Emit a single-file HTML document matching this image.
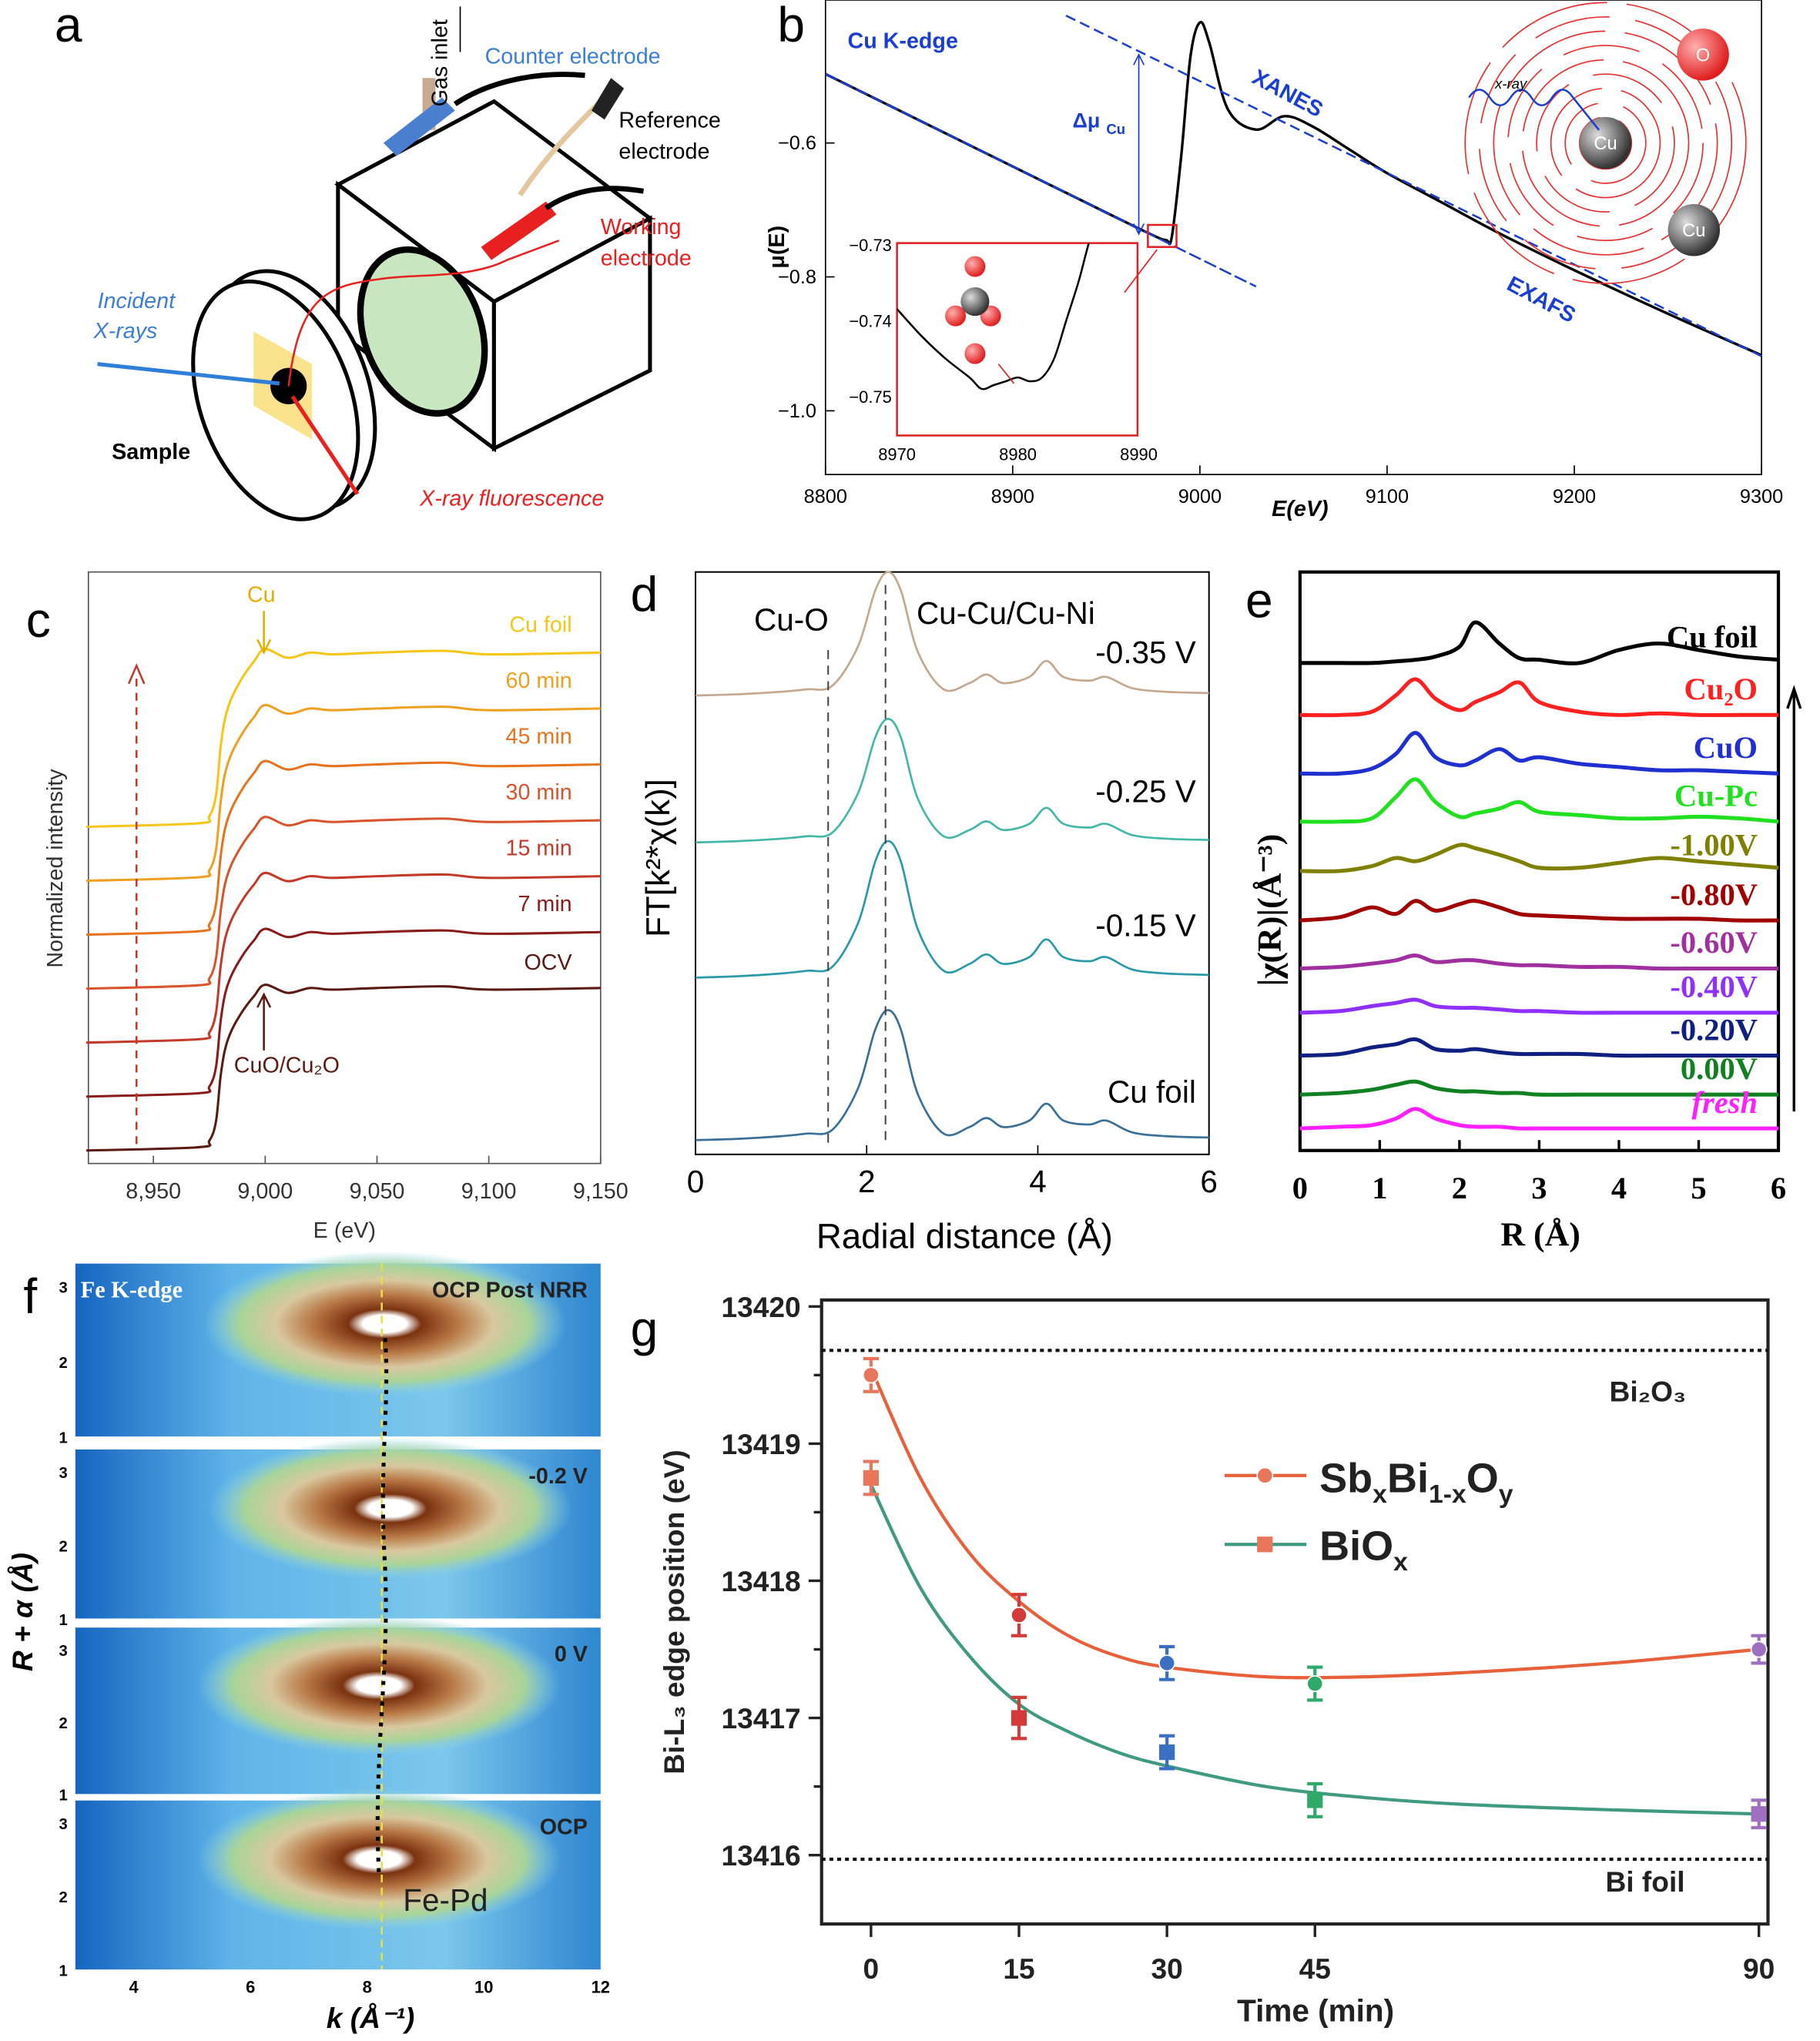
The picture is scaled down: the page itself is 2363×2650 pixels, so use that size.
<!DOCTYPE html>
<html><head><meta charset="utf-8"><style>
html,body{margin:0;padding:0;background:#fff;}
svg{display:block;font-family:"Liberation Sans",sans-serif;}
</style></head><body>
<svg id="fig" width="2363" height="2650" viewBox="0 0 1400 1570" preserveAspectRatio="none" xmlns="http://www.w3.org/2000/svg">
<defs>
<radialGradient id="hm" cx="50%" cy="50%" r="50%">
<stop offset="0" stop-color="#ffffff"/><stop offset="0.12" stop-color="#ffffff"/><stop offset="0.2" stop-color="#7a3210"/><stop offset="0.4" stop-color="#b87845"/><stop offset="0.6" stop-color="#d9c8a0"/><stop offset="0.8" stop-color="#a8d49a"/><stop offset="1" stop-color="#8fd3e8" stop-opacity="0"/>
</radialGradient>
<linearGradient id="hbg" x1="0" y1="0" x2="1" y2="0"><stop offset="0" stop-color="#1565c0"/><stop offset="0.3" stop-color="#5fb4e8"/><stop offset="0.7" stop-color="#7cc7ec"/><stop offset="1" stop-color="#2f86d0"/></linearGradient>
<radialGradient id="ball" cx="35%" cy="35%" r="65%"><stop offset="0" stop-color="#ddd"/><stop offset="1" stop-color="#333"/></radialGradient>
<radialGradient id="oball" cx="35%" cy="35%" r="65%"><stop offset="0" stop-color="#ffb0b0"/><stop offset="1" stop-color="#e02020"/></radialGradient>
<clipPath id="insetClip"><rect x="690" y="187" width="185" height="148"/></clipPath>
</defs>

<g>
<text x="42" y="32" font-size="38">a</text>
<polygon points="260,142 380,78 500,168 380,232" fill="#fff" stroke="#000" stroke-width="3"/>
<polygon points="260,142 380,232 380,345 260,255" fill="#fff" stroke="#000" stroke-width="3"/>
<polygon points="380,232 500,168 500,285 380,345" fill="#fff" stroke="#000" stroke-width="3"/>
<ellipse cx="325" cy="255" rx="45" ry="65" transform="rotate(-20 325 255)" fill="#c8e6c0" stroke="#000" stroke-width="5"/>
<ellipse cx="225" cy="300" rx="58" ry="95" transform="rotate(-20 225 300)" fill="#fff" stroke="#000" stroke-width="3"/>
<ellipse cx="212" cy="308" rx="58" ry="95" transform="rotate(-20 212 308)" fill="#fff" stroke="#000" stroke-width="3"/>
<polygon points="195,255 240,280 240,338 195,312" fill="#fbe38e"/>
<circle cx="222" cy="297" r="14" fill="#000"/>
<line x1="75" y1="280" x2="215" y2="295" stroke="#2f7ed8" stroke-width="3"/>
<line x1="225" y1="305" x2="275" y2="380" stroke="#e82020" stroke-width="3"/>
<path d="M222,297 C230,230 250,220 290,215 C320,210 360,215 390,200 L430,185" fill="none" stroke="#e82020" stroke-width="1.5"/>
<rect x="325" y="60" width="10" height="40" fill="#c9a990"/>
<line x1="354" y1="5" x2="354" y2="40" stroke="#000"/>
<polygon points="295,110 340,75 350,85 305,120" fill="#4a7fd0"/>
<polygon points="370,190 420,155 428,165 378,200" fill="#e82020"/>
<path d="M350,80 C380,60 420,55 450,58" fill="none" stroke="#000" stroke-width="4"/>
<path d="M420,160 C450,140 480,145 495,147" fill="none" stroke="#000" stroke-width="4"/>
<path d="M400,150 C420,120 440,100 460,80" fill="none" stroke="#e2c7a0" stroke-width="4"/>
<polygon points="455,85 470,60 480,68 465,92" fill="#222"/>
<text x="344" y="82" font-size="17" transform="rotate(-90 344 82)">Gas inlet</text>
<text x="373" y="49" font-size="17" fill="#3a7fd5">Counter electrode</text>
<text x="476" y="98" font-size="17">Reference</text>
<text x="476" y="122" font-size="17">electrode</text>
<text x="462" y="180" font-size="17" fill="#e82020">Working</text>
<text x="462" y="204" font-size="17" fill="#e82020">electrode</text>
<text x="75" y="237" font-size="17" font-style="italic" fill="#3a7fd5">Incident</text>
<text x="72" y="260" font-size="17" font-style="italic" fill="#3a7fd5">X-rays</text>
<text x="86" y="353" font-size="17" font-weight="bold">Sample</text>
<text x="323" y="389" font-size="17" font-style="italic" fill="#e82020">X-ray fluorescence</text>
</g>

<text x="598" y="32" font-size="38">b</text>
<text x="20" y="490" font-size="38">c</text>
<text x="485" y="470" font-size="38">d</text>
<text x="958" y="475" font-size="38">e</text>
<text x="18" y="1010" font-size="38">f</text>
<text x="485" y="1035" font-size="38">g</text>

<g id="pb"></g>
<g id="pc"></g>
<g id="pd"></g>
<g id="pe"></g>
<g id="pf"></g>
<g id="pg"></g>
</svg>
<script>
// panel b
const bEnergy=[8800,8850,8900,8950,8975,8982,8985,8990,8995,9000,9005,9015,9030,9045,9060,9080,9100,9130,9160,9200,9250,9300];
const bMu=[-0.497,-0.566,-0.635,-0.704,-0.738,-0.745,-0.74,-0.62,-0.47,-0.42,-0.45,-0.55,-0.58,-0.56,-0.575,-0.61,-0.645,-0.69,-0.735,-0.79,-0.855,-0.917];
const bXTicks=[8800,8900,9000,9100,9200,9300];
const bYTicks=[-0.6,-0.8,-1.0];
const bInsetE=[8970,8972,8974,8976,8977,8978,8979,8980,8981,8982,8983,8984,8985,8985.5,8986];
const bInsetMu=[-0.7385,-0.742,-0.745,-0.7475,-0.749,-0.7485,-0.748,-0.7475,-0.748,-0.7475,-0.745,-0.74,-0.735,-0.732,-0.729];
const bInsetTicksX=[8970,8980,8990];
const bInsetTicksY=[-0.73,-0.74,-0.75];
// panel c
const cEnergy=[8920,8970,8975,8978,8980,8982,8985,8990,8995,9000,9010,9020,9030,9050,9080,9100,9150];
const cShape=[0,0.02,0.06,0.18,0.45,0.62,0.74,0.86,0.95,1.02,0.97,1.0,0.99,1.0,1.01,0.99,1.0];
const cLabels=["OCV","7 min","15 min","30 min","45 min","60 min","Cu foil"];
const cOffsets=[0,1,2,3,4,5,6];
const cXTicks=[8950,9000,9050,9100,9150];
// panel d
const dR=[0,0.5,1,1.3,1.6,1.9,2.1,2.25,2.4,2.6,2.9,3.2,3.4,3.6,3.9,4.1,4.3,4.6,4.8,5.1,5.5,6];
const dAmp=[0,0.01,0.03,0.05,0.08,0.4,0.85,1,0.85,0.35,0.05,0.1,0.17,0.1,0.15,0.28,0.15,0.12,0.15,0.06,0.03,0.02];
const dLabels=["Cu foil","-0.15 V","-0.25 V","-0.35 V"];
const dScale=[1,1.05,0.95,0.95];
const dXTicks=[0,2,4,6];
// panel e
const eR=[0,0.5,0.9,1.2,1.45,1.7,2.0,2.2,2.5,2.75,3.0,3.5,4.0,4.5,5.0,5.5,6];
const eLabels=["Cu foil","Cu\u2082O","CuO","Cu-Pc","-1.00V","-0.80V","-0.60V","-0.40V","-0.20V","0.00V","fresh"];
const eCu=[0,0,0,1,2,4,10,25,12,3,2,0,8,12,8,4,2];
const eCu2O=[0,0,2,12,22,10,3,8,14,20,8,2,0,1,0,0,0];
const eCuO=[0,0,3,12,25,10,5,8,15,8,10,6,4,2,2,1,0];
const eCuPc=[0,0,2,15,26,12,3,5,8,12,6,4,2,2,3,2,0];
const eM100=[0,0,3,8,6,10,16,14,10,6,2,2,5,8,6,4,2];
const eM080=[0,2,8,4,12,6,10,12,8,4,3,2,1,1,1,0,0];
const eM060=[0,1,3,5,8,4,5,5,3,2,2,1,1,0,0,0,0];
const eM040=[0,1,4,6,8,4,3,3,2,1,1,0,0,0,0,0,0];
const eM020=[0,1,5,7,10,4,3,4,2,1,1,1,0,0,0,0,0];
const eZero=[0,1,3,6,8,4,2,2,1,1,0,0,0,0,0,0,0];
const eFresh=[0,1,2,6,12,6,2,1,1,0,0,0,0,0,0,0,0];
const eXTicks=[0,1,2,3,4,5,6];
// panel f
const fLabels=["OCP Post NRR","-0.2 V","0 V","OCP"];
const fPeakK=[8.3,8.4,8.2,8.2];
const fPeakR=[2.5,2.5,2.5,2.5];
const fXTicks=[4,6,8,10,12];
// panel g
const gTime=[0,15,30,45,90];
const gSb=[13419.5,13417.75,13417.4,13417.25,13417.5];
const gBi=[13418.75,13417.0,13416.75,13416.4,13416.3];
const gErr=[0.12,0.15,0.12,0.12,0.1];
const gFitT=[0,5,10,15,20,25,30,40,50,60,75,90];
const gSbFit=[13419.55,13418.75,13418.2,13417.85,13417.6,13417.45,13417.37,13417.3,13417.3,13417.33,13417.4,13417.5];
const gBiFit=[13418.7,13417.95,13417.45,13417.1,13416.9,13416.75,13416.65,13416.5,13416.42,13416.37,13416.33,13416.3];
const gXTicks=[0,15,30,45,90];
const gYTicks=[13416,13417,13418,13419,13420];
const gColors=["#e8765a","#d43a3a","#3a6fc4","#2fa86a","#a070c0"];

const NS="http://www.w3.org/2000/svg";
function mk(tag,parent){const e=document.createElementNS(NS,tag);parent.appendChild(e);return e;}
function smooth(pts){let d="M"+pts[0][0]+","+pts[0][1];for(let i=0;i<pts.length-1;i++){const p0=pts[Math.max(0,i-1)],p1=pts[i],p2=pts[i+1],p3=pts[Math.min(pts.length-1,i+2)];d+=" C"+(p1[0]+(p2[0]-p0[0])/6)+","+(p1[1]+(p2[1]-p0[1])/6)+" "+(p2[0]-(p3[0]-p1[0])/6)+","+(p2[1]-(p3[1]-p1[1])/6)+" "+p2[0]+","+p2[1];}return d;}
function txt(parent,x,y,s,size,opts){const t=mk("text",parent);t.setAttribute("x",x);t.setAttribute("y",y);t.setAttribute("font-size",size);for(const k in (opts||{}))t.setAttribute(k,opts[k]);t.textContent=s;return t;}
function ln(parent,x1,y1,x2,y2,stroke,w,dash){const l=mk("line",parent);l.setAttribute("x1",x1);l.setAttribute("y1",y1);l.setAttribute("x2",x2);l.setAttribute("y2",y2);l.setAttribute("stroke",stroke);l.setAttribute("stroke-width",w);if(dash)l.setAttribute("stroke-dasharray",dash);return l;}
function rect(parent,x,y,w,h,stroke,sw,fill){const r=mk("rect",parent);r.setAttribute("x",x);r.setAttribute("y",y);r.setAttribute("width",w);r.setAttribute("height",h);r.setAttribute("fill",fill||"none");r.setAttribute("stroke",stroke);r.setAttribute("stroke-width",sw);return r;}
function pathEl(parent,d,stroke,w){const p=mk("path",parent);p.setAttribute("d",d);p.setAttribute("fill","none");p.setAttribute("stroke",stroke);p.setAttribute("stroke-width",w);return p;}

// panel b
(function(){
const g=document.getElementById("pb");
const x=v=>635+(v-8800)*720/500, y=v=>110+(-0.6-v)*515;
const fr=rect(g,635,0,720,365,"#000",1);


bXTicks.forEach(v=>{ln(g,x(v),365,x(v),358,"#000",1);const t=txt(g,x(v),387,String(v),15,{"text-anchor":"middle"});

});
bYTicks.forEach(v=>{ln(g,635,y(v),642,y(v),"#000",1);const t=txt(g,628,y(v)+5,v.toFixed(1).replace("-","\u2212"),15,{"text-anchor":"end"});

});
const xl=txt(g,1000,397,"E(eV)",17,{"font-weight":"bold","font-style":"italic","text-anchor":"middle"});


const yl=txt(g,603,190,"\u03bc(E)",17,{"font-weight":"bold","text-anchor":"middle",transform:"rotate(-90 603 190)"});


const c=pathEl(g,smooth(bEnergy.map((e,i)=>[x(e),y(bMu[i])])),"#000",2);


const pre=pathEl(g,"M"+x(8800)+","+y(-0.497)+" L"+x(9030)+","+y(-0.497-230*0.00138),"#1a3fd0",1.5);
pre.setAttribute("stroke-dasharray","10,3");


const post=pathEl(g,"M820,12 L1355,274","#1a3fd0",1.5);
post.setAttribute("stroke-dasharray","8,4");


const ar=pathEl(g,"M876,42 L876,180 M872,50 L876,42 L880,50 M872,172 L876,180 L880,172","#1a3fd0",1);


[["Cu K-edge",652,37,17,"#1a3fd0",0],["\u0394\u03bc",825,98,16,"#1a3fd0",0],["XANES",962,63,17,"#1a3fd0",28],["EXAFS",1158,222,17,"#1a3fd0",28]].forEach(a=>{const t=txt(g,a[1],a[2],a[0],a[3],{fill:a[4],"font-weight":"bold",transform:"rotate("+a[5]+" "+a[1]+" "+a[2]+")"});

});
const sub=txt(g,851,103,"Cu",11,{fill:"#1a3fd0","font-weight":"bold"});


for(let i=0;i<9;i++){const ci=mk("circle",g);ci.setAttribute("cx",1235);ci.setAttribute("cy",110);ci.setAttribute("r",20+i*11);ci.setAttribute("fill","none");ci.setAttribute("stroke","#e83030");ci.setAttribute("stroke-width",1);ci.setAttribute("stroke-dasharray",i%2?"60,20":"90,15");

}
[[1235,110,"Cu","url(#ball)"],[1303,177,"Cu","url(#ball)"],[1310,42,"O","url(#oball)"]].forEach(b=>{const ci=mk("circle",g);ci.setAttribute("cx",b[0]);ci.setAttribute("cy",b[1]);ci.setAttribute("r",20);ci.setAttribute("fill",b[3]);


const t=txt(g,b[0],b[1]+5,b[2],14,{"text-anchor":"middle",fill:"#fff"});

});
const wv=pathEl(g,"M1130,75 q8,-12 16,0 q8,12 16,0 q8,-12 16,0 q8,12 16,0 q8,-12 16,0 l20,25","#1a3fd0",1.5);


const xr=txt(g,1150,68,"x-ray",11,{"font-style":"italic"});


const sq=rect(g,883,173,22,17,"#e02020",1.5);


const ix=v=>690+(v-8970)*9.3, iy=v=>188+(-0.73-v)*5850;
const ib=rect(g,690,187,185,148,"#e02020",1.5,"#fff");


const ia=pathEl(g,"M890,192 L865,225","#e02020",1);


bInsetTicksX.forEach(v=>{const t=txt(g,ix(v),354,String(v),13,{"text-anchor":"middle"});

});
bInsetTicksY.forEach(v=>{const t=txt(g,686,iy(v)+5,v.toFixed(2).replace("-","\u2212"),13,{"text-anchor":"end"});

});
const ic=pathEl(g,smooth(bInsetE.map((e,i)=>[ix(e),iy(bInsetMu[i])])),"#000",1.5);
ic.setAttribute("clip-path","url(#insetClip)");


const ra=pathEl(g,"M768,280 L780,295","#e02020",1);


[[750,205],[735,243],[762,243],[750,272],[750,232]].forEach((p,i)=>{const ci=mk("circle",g);ci.setAttribute("cx",p[0]);ci.setAttribute("cy",p[1]);ci.setAttribute("r",i==4?11:8);ci.setAttribute("fill",i==4?"url(#ball)":"url(#oball)");

});
})();

// panel c
(function(){
const g=document.getElementById("pc");
const x=v=>118+(v-8950)*(462-118)/200;
const fr=rect(g,68,440,394,455,"#555",1);


cXTicks.forEach(v=>{ln(g,x(v),895,x(v),889,"#555",1);const t=txt(g,x(v),922,v.toLocaleString("en-US"),17,{"text-anchor":"middle",fill:"#333"});

});
const xl=txt(g,265,952,"E (eV)",17,{"text-anchor":"middle",fill:"#333"});


const yl=txt(g,48,668,"Normalized intensity",17,{"text-anchor":"middle",fill:"#333",transform:"rotate(-90 48 668)"});


const colors=["#5a1a12","#8b1a1a","#c43a2a","#d9532c","#e8731f","#f0a020","#f5c518"];
cOffsets.forEach((o,k)=>{const base=885-o*41.5, h=125+k*1.5;
const p=pathEl(g,smooth(cEnergy.map((e,i)=>[x(e),base-cShape[i]*h])),colors[k],1.8);


const t=txt(g,440,base-h+(k==0?0:-2)-14,cLabels[k],17,{"text-anchor":"end",fill:colors[k]});

});
const da=ln(g,105,880,105,520,"#c0392b",1.5,"6,5");


const ah=mk("path",g);ah.setAttribute("d","M99,526 L105,512 L111,526");ah.setAttribute("fill","none");ah.setAttribute("stroke","#c0392b");ah.setAttribute("stroke-width",1.5);


const cu=txt(g,201,463,"Cu",17,{"text-anchor":"middle",fill:"#e0b000"});


const a1=pathEl(g,"M203,470 L203,500 M198,492 L203,502 L208,492","#e0b000",1.5);


const a2=pathEl(g,"M203,808 L203,765 M198,775 L203,765 L208,775","#5a1a12",1.5);


const t=txt(g,180,825,"CuO/Cu\u2082O",17,{fill:"#5a1a12"});


})();

// panel d
(function(){
const g=document.getElementById("pd");
const x=v=>535+v*(930-535)/6;
const fr=rect(g,535,440,395,448,"#000",1.2);


dXTicks.forEach(v=>{ln(g,x(v),888,x(v),881,"#000",1);const t=txt(g,x(v),917,String(v),24,{"text-anchor":"middle"});

});
const xl=txt(g,742,960,"Radial distance (\u00c5)",27,{"text-anchor":"middle"});


const yl=txt(g,515,660,"FT[k\u00b2*\u03c7(k)]",26,{"text-anchor":"middle",transform:"rotate(-90 515 660)"});


const bases=[877,752,648,535];const colors=["#3a6f98","#2a9aa8","#44b8a8","#c4a890"];
const labY=[848,720,617,510];
dLabels.forEach((L,k)=>{const p=pathEl(g,smooth(dR.map((r,i)=>[x(r),bases[k]-dAmp[i]*100*dScale[k]])),colors[k],1.6);


const t=txt(g,920,labY[k],L,24,{"text-anchor":"end"});

});
const v1=ln(g,x(1.55),500,x(1.55),880,"#444",1.2,"7,5");


const v2=ln(g,x(2.22),450,x(2.22),880,"#444",1.2,"7,5");


const t1=txt(g,580,485,"Cu-O",24);


const t2=txt(g,705,480,"Cu-Cu/Cu-Ni",24);


})();

// panel e
(function(){
const g=document.getElementById("pe");
const x=v=>1000+v*(1368-1000)/6;
const fr=rect(g,1000,440,368,445,"#000",2.5);


eXTicks.forEach(v=>{ln(g,x(v),885,x(v),877,"#000",2);const t=txt(g,x(v),922,String(v),24,{"text-anchor":"middle","font-family":"Liberation Serif, serif","font-weight":"bold"});

});
const xl=txt(g,1185,958,"R (\u00c5)",26,{"text-anchor":"middle","font-family":"Liberation Serif, serif","font-weight":"bold"});


const yl=txt(g,985,700,"|\u03c7(R)|(\u00c5\u207b\u00b3)",26,{"text-anchor":"middle","font-family":"Liberation Serif, serif","font-weight":"bold",transform:"rotate(-90 985 700)"});


const series=[eCu,eCu2O,eCuO,eCuPc,eM100,eM080,eM060,eM040,eM020,eZero,eFresh];
const bases=[510,550,595,632,670,708,745,779,812,842,868];
const colors=["#000","#ff2020","#1f2fd0","#20e020","#808000","#a00000","#a030a0","#9030ff","#102080","#108020","#ff20ff"];
series.forEach((s,k)=>{const p=pathEl(g,smooth(eR.map((r,i)=>[x(r),bases[k]-s[i]*1.25])),colors[k],3);


const t=txt(g,1352,bases[k]-12,eLabels[k],24,{"text-anchor":"end",fill:colors[k],"font-family":"Liberation Serif, serif","font-weight":"bold","font-style":k==10?"italic":"normal"});

});
const ar=pathEl(g,"M1380,855 L1380,530 M1375,545 L1380,530 L1385,545","#000",2);


})();

// panel f
(function(){
const g=document.getElementById("pf");
const x=v=>58+(v-3)*(462-58)/9;
const tops=[972,1115,1252,1385];const H=[133,130,128,130];
const yAt=(k,r)=>tops[k]+H[k]-(r-1)*(H[k]/2.3);
fLabels.forEach((L,k)=>{
const bg=rect(g,58,tops[k],404,H[k],"none",0,"url(#hbg)");


const el=mk("ellipse",g);el.setAttribute("cx",x(fPeakK[k]));el.setAttribute("cy",yAt(k,fPeakR[k]));el.setAttribute("rx",140);el.setAttribute("ry",H[k]*0.42);el.setAttribute("fill","url(#hm)");


const t=txt(g,452,tops[k]+26,L,17,{"text-anchor":"end","font-weight":"bold",fill:"#222"});


[1,2,3].forEach(r=>{const tt=txt(g,52,yAt(k,r)+5,String(r),12,{"text-anchor":"end","font-weight":"bold"});

});
});
const fe=txt(g,62,998,"Fe K-edge",18,{"font-family":"Liberation Serif, serif","font-weight":"bold",fill:"#fff"});


const fp=txt(g,310,1470,"Fe-Pd",24,{fill:"#222"});


const yv=ln(g,x(8.25),972,x(8.25),1515,"#e8e040",1.5,"6,4");


const tr=pathEl(g,"M"+x(8.2)+",1440 C"+x(8.1)+",1350 "+x(8.4)+",1280 "+x(8.3)+",1200 C"+x(8.2)+",1120 "+x(8.4)+",1080 "+x(8.3)+",1025","#000",3);
tr.setAttribute("stroke-dasharray","3,5");


fXTicks.forEach(v=>{const t=txt(g,x(v),1533,String(v),13,{"text-anchor":"middle","font-weight":"bold"});

});
const xl=txt(g,285,1560,"k (\u00c5\u207b\u00b9)",22,{"text-anchor":"middle","font-weight":"bold","font-style":"italic"});


const yl=txt(g,25,1240,"R + \u03b1 (\u00c5)",22,{"text-anchor":"middle","font-weight":"bold","font-style":"italic",transform:"rotate(-90 25 1240)"});


})();

// panel g
(function(){
const g=document.getElementById("pg");
const x=v=>670+v*(1353-670)/90, y=v=>1427-(v-13416)*105.5;
const fr=rect(g,632,1000,728,480,"#222",2.5);


gXTicks.forEach(v=>{ln(g,x(v),1480,x(v),1490,"#222",2);const t=txt(g,x(v),1522,String(v),22,{"text-anchor":"middle","font-weight":"bold",fill:"#222"});

});
gYTicks.forEach(v=>{ln(g,632,y(v),622,y(v),"#222",2);const t=txt(g,616,y(v)+8,String(v),22,{"text-anchor":"end","font-weight":"bold",fill:"#222"});


if(v<13420){ln(g,632,y(v+0.5),626,y(v+0.5),"#222",2);}});
const xl=txt(g,1012,1555,"Time (min)",24,{"text-anchor":"middle","font-weight":"bold",fill:"#222"});


const yl=txt(g,526,1240,"Bi-L\u2083 edge position (eV)",22,{"text-anchor":"middle","font-weight":"bold",fill:"#222",transform:"rotate(-90 526 1240)"});


const r1=ln(g,632,y(13419.68),1360,y(13419.68),"#111",2.5,"3,3");


const r2=ln(g,632,y(13415.97),1360,y(13415.97),"#111",2.5,"3,3");


const l1=txt(g,1238,1078,"Bi\u2082O\u2083",22,{"font-weight":"bold",fill:"#222"});


const l2=txt(g,1235,1455,"Bi foil",22,{"font-weight":"bold",fill:"#222"});


const f1=pathEl(g,smooth(gFitT.map((t,i)=>[x(t),y(gSbFit[i])])),"#e8603a",2.5);


const f2=pathEl(g,smooth(gFitT.map((t,i)=>[x(t),y(gBiFit[i])])),"#3f9a80",2.5);


gTime.forEach((t,i)=>{const c=gColors[i];
[[gSb[i],"circle"],[gBi[i],"square"]].forEach(pp=>{const cx=x(t),cy=y(pp[0]),e=gErr[i]*105.5;
const eb=pathEl(g,"M"+cx+","+(cy-e)+" L"+cx+","+(cy+e)+" M"+(cx-6)+","+(cy-e)+" L"+(cx+6)+","+(cy-e)+" M"+(cx-6)+","+(cy+e)+" L"+(cx+6)+","+(cy+e),c,2.5);


let m;if(pp[1]=="circle"){m=mk("circle",g);m.setAttribute("cx",cx);m.setAttribute("cy",cy);m.setAttribute("r",6);m.setAttribute("fill",c);m.setAttribute("stroke","#fff");m.setAttribute("stroke-width",1);
}
else{m=mk("rect",g);m.setAttribute("x",cx-6);m.setAttribute("y",cy-6);m.setAttribute("width",12);m.setAttribute("height",12);m.setAttribute("fill",c);
}
});});
const lg1=ln(g,942,1135,1005,1135,"#e8603a",2.5);


const lm1=mk("circle",g);lm1.setAttribute("cx",973);lm1.setAttribute("cy",1135);lm1.setAttribute("r",6);lm1.setAttribute("fill","#e8765a");lm1.setAttribute("stroke","#fff");


const lg2=ln(g,942,1188,1005,1188,"#3f9a80",2.5);


const lm2=mk("rect",g);lm2.setAttribute("x",967);lm2.setAttribute("y",1182);lm2.setAttribute("width",12);lm2.setAttribute("height",12);lm2.setAttribute("fill","#e8765a");


const t1=mk("text",g);t1.setAttribute("x",1015);t1.setAttribute("y",1148);t1.setAttribute("font-size",32);t1.setAttribute("font-weight","bold");t1.setAttribute("fill","#222");
t1.innerHTML='Sb<tspan font-size="20" dy="8">x</tspan><tspan dy="-8">Bi</tspan><tspan font-size="20" dy="8">1-x</tspan><tspan dy="-8">O</tspan><tspan font-size="20" dy="8">y</tspan>';


const t2=mk("text",g);t2.setAttribute("x",1015);t2.setAttribute("y",1200);t2.setAttribute("font-size",32);t2.setAttribute("font-weight","bold");t2.setAttribute("fill","#222");
t2.innerHTML='BiO<tspan font-size="20" dy="8">x</tspan>';


})();
</script>
</body></html>
